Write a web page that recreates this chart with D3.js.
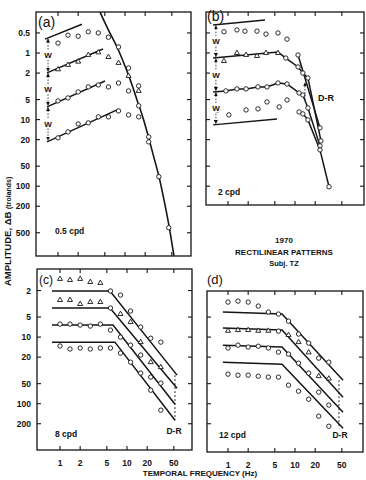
<!DOCTYPE html>
<html><head><meta charset="utf-8">
<script src="https://cdn.jsdelivr.net/npm/d3@7/dist/d3.min.js"></script>
<style>body{margin:0;background:#fff}svg{display:block}text{font-family:"Liberation Sans",Arial,sans-serif;fill:#111}</style>
</head><body><svg id="c" width="366" height="480"></svg>
<script>
// ---------- data ----------
const FREQ = [1, 1.41, 2, 2.83, 4, 5.66, 8, 11.3, 16, 22.6, 32, 45];
const xTickVals = [1, 2, 5, 10, 20, 50];
const yTicksAB = [0.5, 1, 2, 5, 10, 20, 50, 100, 200, 500];
const yTicksCD = [2, 5, 10, 20, 50, 100, 200];

// (a) 0.5 cpd
const aRow1 = [0.71, 0.54, 0.56, 0.48, 0.50, 0.58, 0.81, 1.68, 3.12];
const aRow2 = [1.76, 1.51, 1.35, 1.07, 0.98, 1.15, 1.41, 2.21, 3.71];
const aRow3 = [5.24, 4.73, 3.84, 3.23, 3.02, 3.23, 2.82, 3.71, 6.2];
const aRow4 = [18.8, 15.3, 11.6, 11.2, 9.1, 9.1, 7.4, 8.5, 9.1];
const aExtraF = [22.6, 22.6, 32, 45];
const aExtraV = [18.2, 21.6, 72, 420];
const aFitF0 = [0.64, 0.685, 0.685, 0.685];
const aFitF1 = [2.28, 4.7, 5.03, 7.6];
const aFitV0 = [0.62, 1.99, 6.45, 21.6];
const aFitV1 = [0.37, 0.87, 2.63, 7.16];
const aCurveF = [4.24, 5.57, 7.6, 9.33, 11.1, 13.2, 15.1, 18.6, 22.8, 27.1, 32.2, 38.2, 45.4, 52.0, 53.8];
const aCurveV = [0.243, 0.437, 0.813, 1.32, 2.06, 3.35, 5.07, 9.44, 19.5, 37.5, 72.3, 160, 393, 899, 1105];

// (b) 2 cpd
const bRow1F = [0.87, 1.36, 1.79, 2.71, 3.69, 5.57, 7.6];
const bRow1V = [0.48, 0.45, 0.47, 0.47, 0.52, 0.50, 0.62];
const bRow2F = [0.87, 1.36, 1.86, 2.71, 3.69, 5.57, 7.3, 11.1, 13.1, 15.6, 24.4];
const bRow2V = [1.32, 1.0, 1.07, 1.11, 1.0, 1.0, 1.19, 1.62, 2.0, 2.37, 20.9];
const bLine2F = [0.6, 5.57, 7.3, 11.1, 13.1, 15.6, 24.4];
const bLine2V = [1.19, 0.97, 1.19, 1.62, 2.0, 2.37, 20.9];
const bRow3F = [0.93, 1.36, 1.86, 2.8, 3.82, 5.57, 7.6, 11.5, 13.1, 15.6, 23.6];
const bRow3V = [3.71, 3.46, 3.46, 3.23, 3.23, 2.82, 2.92, 3.98, 4.27, 6.68, 24.8];
const bLine3Start = [0.6, 3.84];
const bRow4F = [0.7, 1.03, 1.86, 2.8, 3.82, 5.8, 7.6];
const bRow4V = [7.16, 8.5, 7.16, 6.9, 5.43, 6.45, 5.07];
const bTail4F = [11.5, 13.1, 15.6, 23.6, 32.2];
const bTail4V = [7.67, 8.2, 10.1, 28.5, 102];
const bTail1F = [11.1, 23.6];
const bTail1V = [1.07, 13.3];
const bTopF = [0.6, 3.57], bTopV = [0.38, 0.32];
const bBotF = [0.6, 5.38], bBotV = [12, 9.8];

// (c) 8 cpd
const cRow1TriV = [1.34, 1.39, 1.34, 1.49, 1.54];
const cRow1HiF = [5.66, 8, 11.3, 16, 22.6, 32];
const cRow1HiV = [2.03, 2.34, 4.06, 7.07, 10.4, 11.9];
const cRow2TriV = [2.78, 2.78, 3.19, 2.98, 2.98];
const cRow2HiF = [5.66, 8, 11.3, 16, 22.6, 32];
const cRow2HiV = [3.66, 4.51, 5.95, 11.9, 23.8, 28.3];
const cRow3 = [6.38, 6.38, 6.6, 6.83, 6.38, 7.85, 10, 13.2, 18.6, 39.9, 49.2];
const cRow4 = [13.6, 15.1, 14.6, 15.1, 14.6, 14.6, 17.4, 23.8, 34.7, 62.7, 125];
const cLineF = [[0.76, 5.57, 55.8], [0.76, 5.57, 55.8], [0.76, 6.18, 52.1], [0.76, 6.6, 52.1]];
const cLineV = [[2.03, 2.03, 37.2], [3.66, 3.66, 58.5], [6.6, 6.6, 102], [11.9, 11.9, 177]];

// (d) 12 cpd
const dRow1 = [2.98, 2.88, 2.98, 3.42, 4.21, 4.51, 5.75, 9.0, 12.3, 20.7, 23.8];
const dRow2TriV = [8.05, 7.85, 7.85, 8.05, 8.05];
const dRow2HiF = [5.66, 8, 11.3, 16, 22.6, 32];
const dRow2HiV = [8.13, 9.3, 11.9, 17, 38.6, 42];
const dRow3 = [14.6, 13.2, 14.1, 13.7, 14.6, 16.8, 18.0, 24.6, 34.7, 67.1, 105];
const dRow4 = [36, 37.3, 37.3, 38.6, 39.9, 39.9, 52.7, 64.9, 85.5, 154, 218];
const dLineF = [0.84, 6.4, 52.1];
const dLineV = [[4.21, 4.51, 44.3], [7.32, 7.85, 79.8], [13.2, 14.1, 134], [23.8, 25.5, 234]];

// ---------- layout ----------
const svg = d3.select('#c');
const INK = '#151515';
const defs = svg.append('defs');
defs.append('marker').attr('id', 'arr').attr('viewBox', '0 0 6 6').attr('refX', 5.5).attr('refY', 3)
  .attr('markerWidth', 4).attr('markerHeight', 4).attr('orient', 'auto-start-reverse').attr('markerUnits', 'userSpaceOnUse')
  .append('path').attr('d', 'M0,0L6,3L0,6Z').attr('fill', INK);

const P = {
  a: {x0: 36, x1: 191, y0: 12, y1: 256, fx: 58, vy: 53},
  b: {x0: 206, x1: 364, y0: 12, y1: 205, fx: 228, vy: 53},
  c: {x0: 37, x1: 192, y0: 269, y1: 450, fx: 60, vy: 270.5},
  d: {x0: 207, x1: 363, y0: 291, y1: 452, fx: 228, vy: 270.5}
};
Object.entries(P).forEach(([k, p]) => {
  p.x = d3.scaleLog().domain([1, 10]).range([p.fx, p.fx + 67]);
  p.y = d3.scaleLog().domain([1, 10]).range([p.vy, p.vy + 66.6]);
  defs.append('clipPath').attr('id', 'clip' + k).append('rect')
    .attr('x', p.x0).attr('y', p.y0).attr('width', p.x1 - p.x0).attr('height', p.y1 - p.y0);
  p.g = svg.append('g');
  p.gc = p.g.append('g').attr('clip-path', `url(#clip${k})`);
  p.g.append('rect').attr('x', p.x0).attr('y', p.y0).attr('width', p.x1 - p.x0).attr('height', p.y1 - p.y0)
    .attr('fill', 'none').attr('stroke', INK).attr('stroke-width', 1.3);
  const yt = (k === 'a' || k === 'b') ? yTicksAB : yTicksCD;
  xTickVals.forEach(v => {
    const px = p.x(v);
    if (px > p.x0 + 2 && px < p.x1 - 2) {
      p.g.append('line').attr('x1', px).attr('x2', px).attr('y1', p.y1).attr('y2', p.y1 - 4).attr('stroke', INK).attr('stroke-width', 1.1);
      p.g.append('line').attr('x1', px).attr('x2', px).attr('y1', p.y0).attr('y2', p.y0 + 4).attr('stroke', INK).attr('stroke-width', 1.1);
    }
  });
  yt.forEach(v => {
    const py = p.y(v);
    if (py > p.y0 + 2 && py < p.y1 - 2) {
      p.g.append('line').attr('x1', p.x0).attr('x2', p.x0 + 4).attr('y1', py).attr('y2', py).attr('stroke', INK).attr('stroke-width', 1.1);
      p.g.append('line').attr('x1', p.x1).attr('x2', p.x1 - 4).attr('y1', py).attr('y2', py).attr('stroke', INK).attr('stroke-width', 1.1);
    }
  });
});

// tick labels
const fmt = v => (v < 1 ? String(v) : d3.format('d')(v));
yTicksAB.forEach(v => svg.append('text').attr('x', 30).attr('y', P.a.y(v) + 3).attr('text-anchor', 'end')
  .attr('font-size', 8.5).attr('font-weight', 'bold').text(fmt(v)));
yTicksCD.forEach(v => svg.append('text').attr('x', 31).attr('y', P.c.y(v) + 3).attr('text-anchor', 'end')
  .attr('font-size', 8.5).attr('font-weight', 'bold').text(fmt(v)));
['c', 'd'].forEach(k => xTickVals.forEach(v => svg.append('text').attr('x', P[k].x(v)).attr('y', P[k].y1 + 16)
  .attr('text-anchor', 'middle').attr('font-size', 8.5).attr('font-weight', 'bold').text(fmt(v))));

// helpers
function path(p, fs, vs, opts = {}) {
  const line = d3.line().x(d => p.x(d[0])).y(d => p.y(d[1]));
  if (opts.curve) line.curve(opts.curve);
  return p.gc.append('path').attr('d', line(fs.map((f, i) => [f, vs[i]])))
    .attr('fill', 'none').attr('stroke', INK).attr('stroke-width', opts.w || 1.5)
    .attr('stroke-dasharray', opts.dash || null);
}
function pts(p, fs, vs, shape) {
  fs.forEach((f, i) => {
    const cx = p.x(f), cy = p.y(vs[i]);
    if (shape === 'tri') {
      p.gc.append('path').attr('d', d3.symbol(d3.symbolTriangle, 11)()).attr('transform', `translate(${cx},${cy})`)
        .attr('fill', '#fff').attr('stroke', INK).attr('stroke-width', 0.9);
    } else {
      p.gc.append('circle').attr('cx', cx).attr('cy', cy).attr('r', 2.2)
        .attr('fill', '#fff').attr('stroke', INK).attr('stroke-width', 0.9);
    }
  });
}
function interpLog(f, f0, f1, v0, v1) {
  const t = (Math.log(f) - Math.log(f0)) / (Math.log(f1) - Math.log(f0));
  return Math.exp(Math.log(v0) + t * (Math.log(v1) - Math.log(v0)));
}
function wArrows(p, f, vals) {
  const x = p.x(f);
  for (let i = 0; i < vals.length - 1; i++) {
    const ya = p.y(vals[i]), yb = p.y(vals[i + 1]);
    p.g.append('line').attr('x1', x).attr('x2', x).attr('y1', ya + 1).attr('y2', yb - 1)
      .attr('stroke', INK).attr('stroke-width', 0.8).attr('stroke-dasharray', '1.5,1.5')
      .attr('marker-start', 'url(#arr)').attr('marker-end', 'url(#arr)');
    const ym = (ya + yb) / 2;
    p.g.append('rect').attr('x', x - 4).attr('y', ym - 5).attr('width', 8).attr('height', 9).attr('fill', '#fff');
    p.g.append('text').attr('x', x).attr('y', ym + 3).attr('text-anchor', 'middle')
      .attr('font-size', 8).attr('font-weight', 'bold').text('W');
  }
}

// ---------- panel (a) ----------
{
  const p = P.a;
  path(p, aCurveF, aCurveV, {curve: d3.curveCatmullRom, w: 1.6});
  for (let i = 0; i < 4; i++) path(p, [aFitF0[i], aFitF1[i]], [aFitV0[i], aFitV1[i]], {w: 1.5});
  const n = aRow1.length;
  pts(p, FREQ.slice(0, n), aRow1, 'circ');
  pts(p, FREQ.slice(0, n), aRow2, 'tri');
  pts(p, FREQ.slice(0, n), aRow3, 'circ');
  pts(p, FREQ.slice(0, n), aRow4, 'circ');
  pts(p, aExtraF, aExtraV, 'circ');
  const fa = 0.71;
  wArrows(p, fa, [0, 1, 2, 3].map(i => interpLog(fa, aFitF0[i], aFitF1[i], aFitV0[i], aFitV1[i])));
}

// ---------- panel (b) ----------
{
  const p = P.b;
  path(p, bTopF, bTopV);
  path(p, bBotF, bBotV);
  path(p, bLine2F, bLine2V);
  path(p, [bLine3Start[0]].concat(bRow3F), [bLine3Start[1]].concat(bRow3V));
  path(p, bTail4F, bTail4V);
  path(p, bTail1F, bTail1V);
  pts(p, bRow1F, bRow1V, 'circ');
  pts(p, bRow2F.slice(0, 6), bRow2V.slice(0, 6), 'tri');
  pts(p, bRow2F.slice(6), bRow2V.slice(6), 'circ');
  pts(p, bRow3F, bRow3V, 'circ');
  pts(p, bRow4F, bRow4V, 'circ');
  pts(p, bTail4F, bTail4V, 'circ');
  pts(p, bTail1F, bTail1V, 'circ');
  const fb = 0.66;
  wArrows(p, fb, [
    interpLog(fb, bTopF[0], bTopF[1], bTopV[0], bTopV[1]),
    interpLog(fb, bLine2F[0], bLine2F[1], bLine2V[0], bLine2V[1]),
    interpLog(fb, bLine3Start[0], bRow3F[0], bLine3Start[1], bRow3V[0]),
    interpLog(fb, bBotF[0], bBotF[1], bBotV[0], bBotV[1])
  ]);
  // D-R marker
  p.g.append('line').attr('x1', p.x(14.1)).attr('x2', p.x(14.1)).attr('y1', p.y(5.0)).attr('y2', p.y(2.8))
    .attr('stroke', INK).attr('stroke-width', 0.8).attr('stroke-dasharray', '1.5,1.5').attr('marker-end', 'url(#arr)');
  p.g.append('text').attr('x', 318).attr('y', 101).attr('font-size', 9).attr('font-weight', 'bold').text('D-R');
}

// ---------- panel (c) ----------
{
  const p = P.c;
  for (let i = 0; i < 4; i++) path(p, cLineF[i], cLineV[i]);
  pts(p, FREQ.slice(0, 5), cRow1TriV, 'tri');
  pts(p, cRow1HiF, cRow1HiV, 'circ');
  pts(p, FREQ.slice(0, 5), cRow2TriV, 'tri');
  pts(p, cRow2HiF.slice(0, 1), cRow2HiV.slice(0, 1), 'circ');
  pts(p, cRow2HiF.slice(1), cRow2HiV.slice(1), 'tri');
  pts(p, FREQ.slice(0, cRow3.length), cRow3, 'circ');
  pts(p, FREQ.slice(0, cRow4.length), cRow4, 'circ');
  path(p, [52, 52], [cLineV[0][2], cLineV[3][2]], {w: 0.9, dash: '2,2'});
  p.g.append('text').attr('x', 174).attr('y', 434).attr('text-anchor', 'middle').attr('font-size', 8.5).attr('font-weight', 'bold').text('D-R');
}

// ---------- panel (d) ----------
{
  const p = P.d;
  for (let i = 0; i < 4; i++) path(p, dLineF, dLineV[i]);
  pts(p, FREQ.slice(0, dRow1.length), dRow1, 'circ');
  pts(p, FREQ.slice(0, 5), dRow2TriV, 'tri');
  pts(p, dRow2HiF.slice(0, 1), dRow2HiV.slice(0, 1), 'circ');
  pts(p, dRow2HiF.slice(1), dRow2HiV.slice(1), 'tri');
  pts(p, FREQ.slice(0, dRow3.length), dRow3, 'circ');
  pts(p, FREQ.slice(0, dRow4.length), dRow4, 'circ');
  path(p, [45.3, 45.3], [dLineV[0][2], dLineV[3][2]], {w: 0.9, dash: '2,2'});
  p.g.append('text').attr('x', 340).attr('y', 438).attr('text-anchor', 'middle').attr('font-size', 8.5).attr('font-weight', 'bold').text('D-R');
}

// ---------- labels ----------
const lab = (x, y, t, s, w, anchor) => svg.append('text').attr('x', x).attr('y', y).attr('font-size', s)
  .attr('font-weight', w || 'normal').attr('text-anchor', anchor || 'start').text(t);
lab(38, 27, '(a)', 14);
lab(207, 21, '(b)', 14);
lab(39, 284, '(c)', 12);
lab(207, 284, '(d)', 13);
lab(55, 234, '0.5 cpd', 8.5, 'bold');
lab(218, 195, '2 cpd', 8.5, 'bold');
lab(55, 437, '8 cpd', 8.5, 'bold');
lab(219, 438, '12 cpd', 8.5, 'bold');
lab(284, 243, '1970', 8, 'bold', 'middle');
lab(284, 255, 'RECTILINEAR PATTERNS', 8, 'bold', 'middle');
lab(284, 266, 'Subj. TZ', 7.5, 'bold', 'middle');
lab(200, 476, 'TEMPORAL FREQUENCY (Hz)', 8, 'bold', 'middle');
const yt = svg.append('text').attr('transform', 'translate(11,286) rotate(-90)').attr('font-size', 9.5).attr('font-weight', 'bold');
yt.append('tspan').text('AMPLITUDE, ΔB ');
yt.append('tspan').attr('font-size', 7).text('(trolands)');
</script></body></html>
